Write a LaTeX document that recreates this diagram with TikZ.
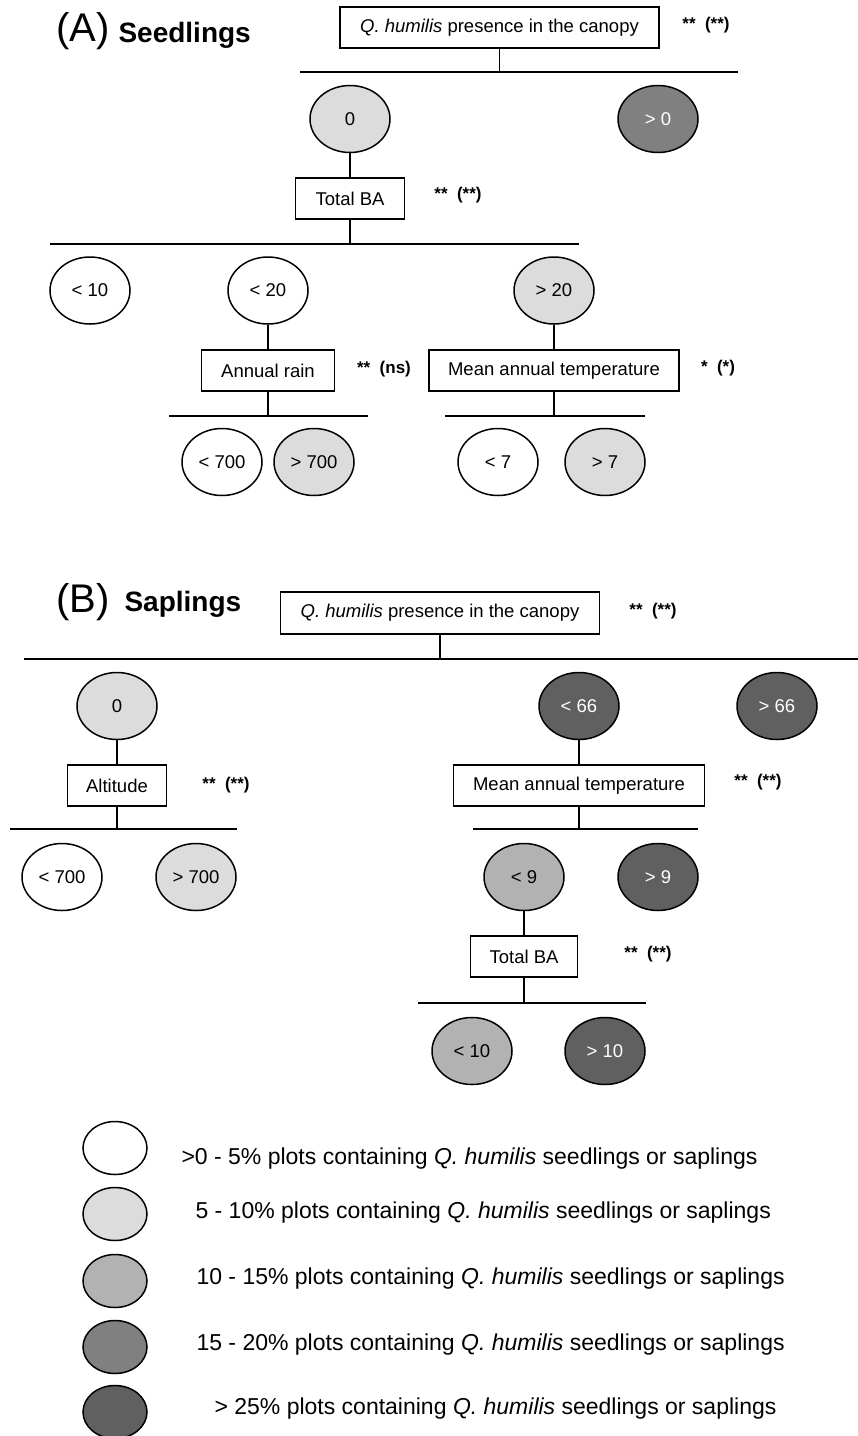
\documentclass[tikz,border=0pt]{standalone}
\usepackage{fontspec}
\setmainfont{Liberation Sans}
\usetikzlibrary{shapes.geometric,positioning}
\definecolor{lev1}{gray}{1}
\definecolor{lev2}{gray}{0.863}
\definecolor{lev3}{gray}{0.698}
\definecolor{lev4}{gray}{0.5}
\definecolor{lev5}{gray}{0.376}
\newcommand{\qh}{\textit{Q. humilis}}

\begin{document}
\begin{tikzpicture}[x=1pt,y=-1pt,
    every node/.style={font=\fontsize{18.5}{22}\selectfont},
    testbox/.style={draw,line width=1.5pt,rectangle,minimum height=41pt,inner sep=0pt},
    leaf/.style={draw,line width=1.5pt,ellipse,minimum width=80pt,minimum height=67pt,inner sep=0pt},
    key/.style={draw,line width=1.5pt,ellipse,minimum width=64pt,minimum height=53pt,inner sep=0pt},
    sig/.style={font=\fontsize{17}{20}\bfseries\selectfont},
    bar/.style={line width=2pt},
    stem/.style={line width=1.5pt},
    legtext/.style={anchor=west,font=\fontsize{23}{27}\selectfont}]
    \useasboundingbox (0,0) rectangle (858,1436);

    % (A) Seedlings
    \node[anchor=base west,font=\fontsize{40}{44}\selectfont] (labA) at (53,41) {(A)};
    \node[anchor=base west,font=\fontsize{28}{32}\bfseries\selectfont] (titA) at (115,42) {Seedlings};
    \node[testbox,minimum width=319pt] (topA) at (499.5,27.5) {\qh{} presence in the canopy};
    \node[sig] (sA1) at (706,25) {**\; (**)};
    \coordinate (bA1l) at (300,72);
    \coordinate (bA1r) at (738,72);
    \node[leaf,fill=lev2] (eA0) at (350,119) {0};
    \node[leaf,fill=lev4,text=white] (eA1) at (658,119) {> 0};
    \node[testbox,minimum width=109pt] (baA) at (350,198.5) {Total BA};
    \node[sig] (sA2) at (458,195) {**\; (**)};
    \coordinate (bA2l) at (50,244);
    \coordinate (bA2r) at (579,244);
    \node[leaf,fill=lev1] (eA00) at (90,290.5) {< 10};
    \node[leaf,fill=lev1] (eA01) at (268,290.5) {< 20};
    \node[leaf,fill=lev2] (eA02) at (554,290.5) {> 20};
    \node[testbox,minimum width=133pt] (rainA) at (268,370.5) {Annual rain};
    \node[sig] (sA3) at (384,369) {**\; (ns)};
    \node[testbox,minimum width=250pt] (matA) at (554,370.5) {Mean annual temperature};
    \node[sig] (sA4) at (718,368) {*\; (*)};
    \coordinate (bA3l) at (169,416);
    \coordinate (bA3r) at (368,416);
    \coordinate (bA4l) at (445,416);
    \coordinate (bA4r) at (645,416);
    \node[leaf,fill=lev1] (eA010) at (222,462) {< 700};
    \node[leaf,fill=lev2] (eA011) at (314,462) {> 700};
    \node[leaf,fill=lev1] (eA020) at (498,462) {< 7};
    \node[leaf,fill=lev2] (eA021) at (605,462) {> 7};

    \draw[stem] (topA.south) -- (topA.south |- bA1l);
    \draw[bar] (bA1l) -- (bA1r);
    \draw[stem] (eA0) -- (baA);
    \draw[stem] (baA.south) -- (baA.south |- bA2l);
    \draw[bar] (bA2l) -- (bA2r);
    \draw[stem] (eA01) -- (rainA);
    \draw[stem] (eA02) -- (matA);
    \draw[stem] (rainA.south) -- (rainA.south |- bA3l);
    \draw[bar] (bA3l) -- (bA3r);
    \draw[stem] (matA.south) -- (matA.south |- bA4l);
    \draw[bar] (bA4l) -- (bA4r);

    % (B) Saplings
    \node[anchor=base west,font=\fontsize{40}{44}\selectfont] (labB) at (53,612) {(B)};
    \node[anchor=base west,font=\fontsize{28}{32}\bfseries\selectfont] (titB) at (121,611) {Saplings};
    \node[testbox,minimum width=319pt,minimum height=42pt] (topB) at (440,613) {\qh{} presence in the canopy};
    \node[sig] (sB1) at (653,611) {**\; (**)};
    \coordinate (bB1l) at (24,659);
    \coordinate (bB1r) at (858,659);
    \node[leaf,fill=lev2] (eB0) at (117,706) {0};
    \node[leaf,fill=lev5,text=white] (eB1) at (579,706) {< 66};
    \node[leaf,fill=lev5,text=white] (eB2) at (777,706) {> 66};
    \node[testbox,minimum width=99pt] (altB) at (117,785.5) {Altitude};
    \node[sig] (sB2) at (226,785) {**\; (**)};
    \coordinate (bB2l) at (10,829);
    \coordinate (bB2r) at (237,829);
    \node[leaf,fill=lev1] (eB00) at (62,877) {< 700};
    \node[leaf,fill=lev2] (eB01) at (196,877) {> 700};
    \node[testbox,minimum width=251pt] (matB) at (579,785.5) {Mean annual temperature};
    \node[sig] (sB3) at (758,782) {**\; (**)};
    \coordinate (bB3l) at (473,829);
    \coordinate (bB3r) at (698,829);
    \node[leaf,fill=lev3] (eB10) at (524,877) {< 9};
    \node[leaf,fill=lev5,text=white] (eB11) at (658,877) {> 9};
    \node[testbox,minimum width=107pt] (baB) at (524,956.5) {Total BA};
    \node[sig] (sB4) at (648,954) {**\; (**)};
    \coordinate (bB4l) at (418,1003);
    \coordinate (bB4r) at (646,1003);
    \node[leaf,fill=lev3] (eB100) at (472,1051) {< 10};
    \node[leaf,fill=lev5,text=white] (eB101) at (605,1051) {> 10};

    \draw[stem] (topB.south) -- (topB.south |- bB1l);
    \draw[bar] (bB1l) -- (bB1r);
    \draw[stem] (eB0) -- (altB);
    \draw[stem] (altB.south) -- (altB.south |- bB2l);
    \draw[bar] (bB2l) -- (bB2r);
    \draw[stem] (eB1) -- (matB);
    \draw[stem] (matB.south) -- (matB.south |- bB3l);
    \draw[bar] (bB3l) -- (bB3r);
    \draw[stem] (eB10) -- (baB);
    \draw[stem] (baB.south) -- (baB.south |- bB4l);
    \draw[bar] (bB4l) -- (bB4r);

    % Legend
    \node[key,fill=lev1] (key1) at (115,1148) {};
    \node[key,fill=lev2] (key2) at (115,1214) {};
    \node[key,fill=lev3] (key3) at (115,1281) {};
    \node[key,fill=lev4] (key4) at (115,1347) {};
    \node[key,fill=lev5] (key5) at (115,1412) {};
    \node[legtext] (lab1) at (178,1159) {>0 - 5\% plots containing \qh{} seedlings or saplings};
    \node[legtext] (lab2) at (192,1213) {5 - 10\% plots containing \qh{} seedlings or saplings};
    \node[legtext] (lab3) at (193,1279) {10 - 15\% plots containing \qh{} seedlings or saplings};
    \node[legtext] (lab4) at (193,1345) {15 - 20\% plots containing \qh{} seedlings or saplings};
    \node[legtext] (lab5) at (211,1409) {> 25\% plots containing \qh{} seedlings or saplings};
\end{tikzpicture}
\end{document}
